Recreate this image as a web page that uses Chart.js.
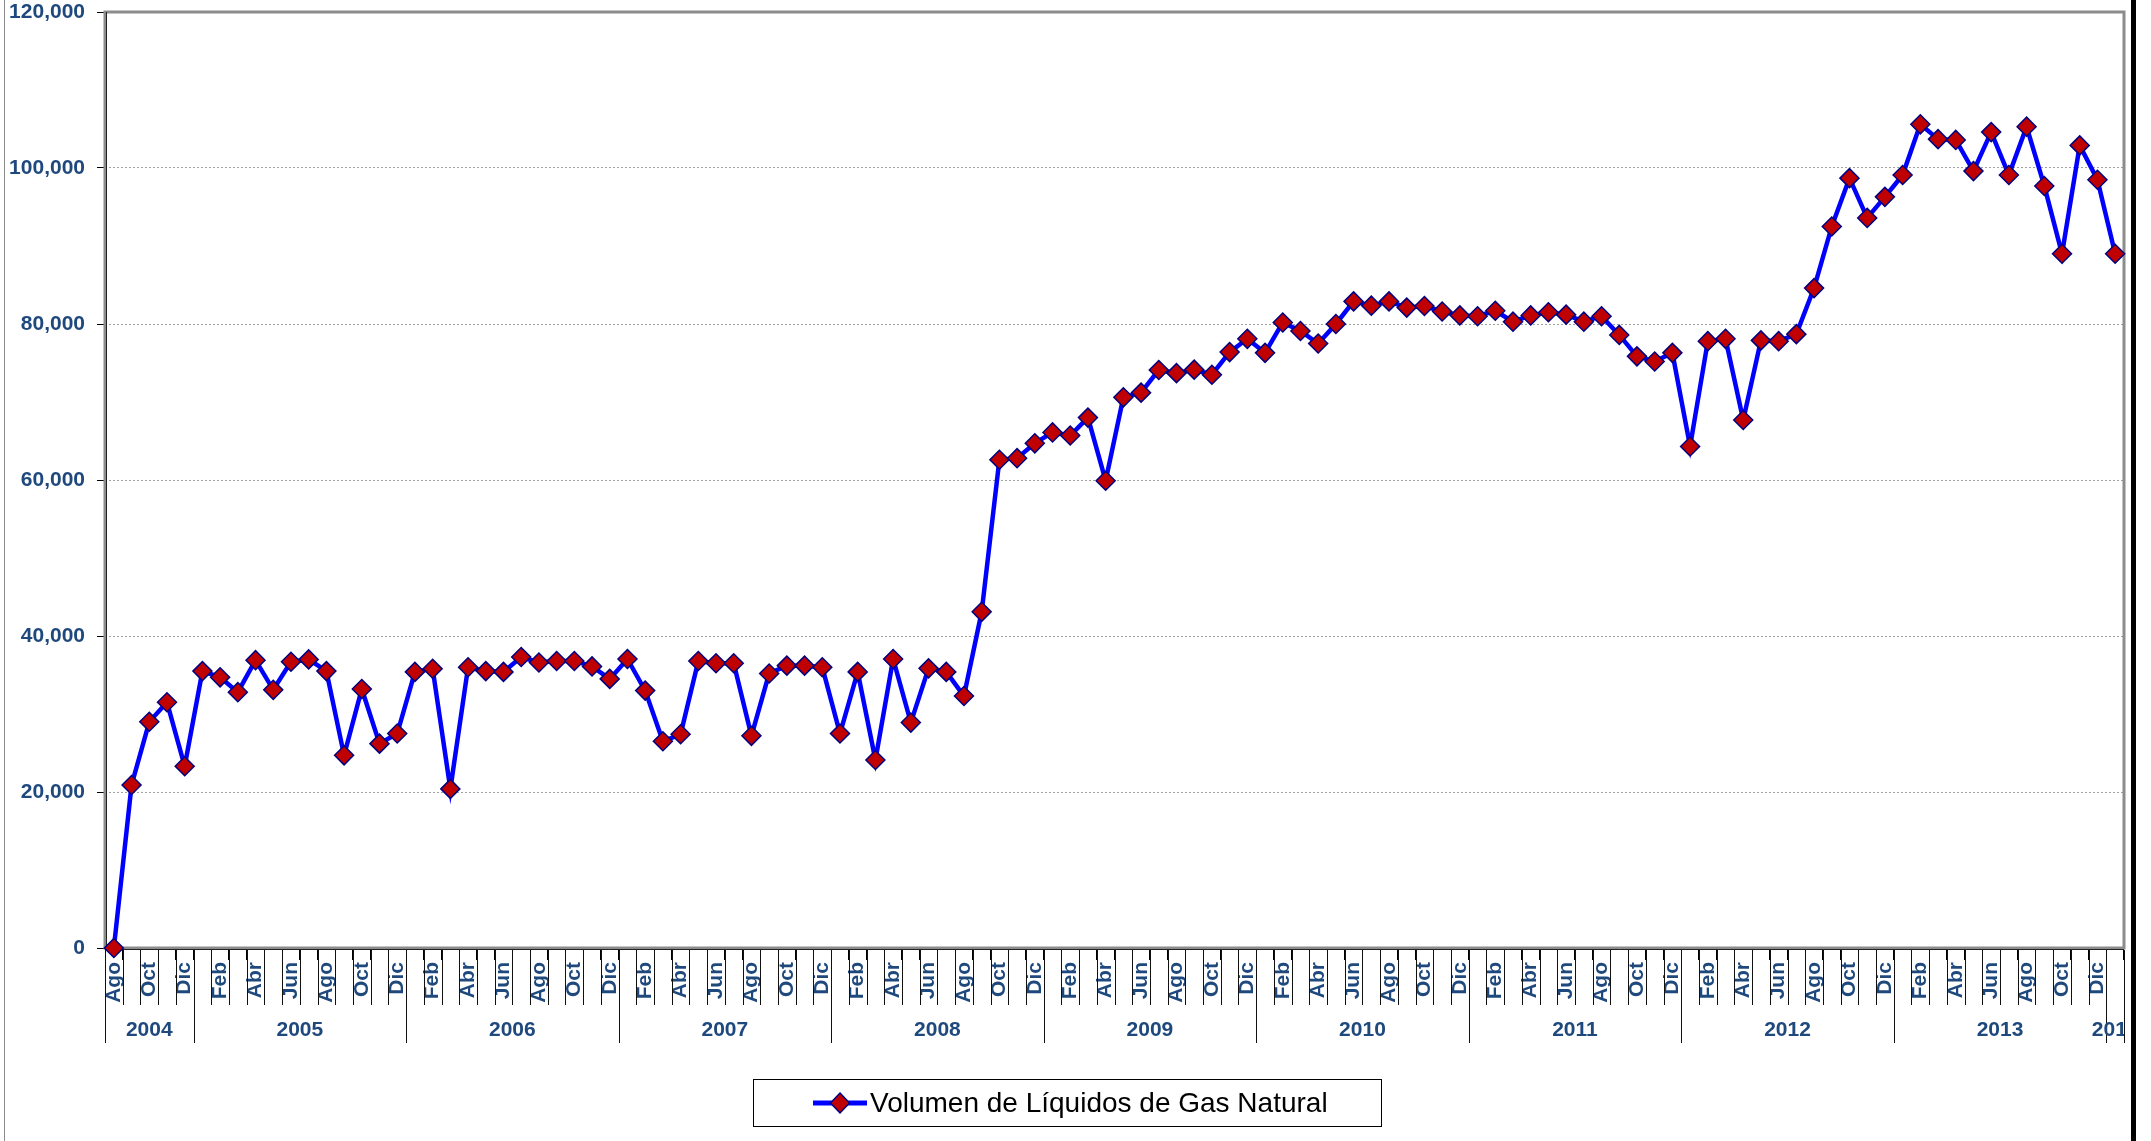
<!DOCTYPE html>
<html>
<head>
<meta charset="utf-8">
<script src="https://cdn.jsdelivr.net/npm/chart.js@4.4.0/dist/chart.umd.min.js"></script>
<style>
  html, body { margin: 0; padding: 0; background: #fff; }
  #wrap { width: 2151px; height: 1141px; }
</style>
</head>
<body>
<div id="wrap"><canvas id="chart" width="2151" height="1141"></canvas></div>
<script>
// data (monthly, Ago 2004 - Ene 2014)
const monthNames = ['Ene','Feb','Mar','Abr','May','Jun','Jul','Ago','Sep','Oct','Nov','Dic'];
const years = [2004, 2005, 2006, 2007, 2008, 2009, 2010, 2011, 2012, 2013, 2014];
const firstMonth = 7; // Ago
const seriesLabel = 'Volumen de Líquidos de Gas Natural';

const vol2004 = [0, 20900, 29000, 31500, 23300];
const vol2005 = [35500, 34700, 32800, 36900, 33100, 36700, 37000, 35500, 24700, 33200, 26200, 27500];
const vol2006 = [35400, 35800, 20400, 36000, 35500, 35400, 37300, 36600, 36800, 36800, 36100, 34500];
const vol2007 = [37050, 33000, 26500, 27400, 36800, 36500, 36500, 27200, 35200, 36200, 36200, 36000];
const vol2008 = [27500, 35400, 24100, 37050, 28900, 35850, 35400, 32300, 43100, 62600, 62800, 64700];
const vol2009 = [66100, 65700, 68000, 59900, 70600, 71200, 74100, 73700, 74150, 73500, 76400, 78100];
const vol2010 = [76300, 80200, 79100, 77500, 80000, 82900, 82350, 82900, 82100, 82300, 81600, 81100];
const vol2011 = [81000, 81700, 80300, 81100, 81500, 81200, 80300, 81000, 78600, 75850, 75200, 76300];
const vol2012 = [64300, 77800, 78100, 67700, 77900, 77800, 78700, 84600, 92500, 98700, 93600, 96300];
const vol2013 = [99100, 105600, 103700, 103600, 99600, 104600, 99100, 105300, 97700, 89000, 102900, 98500];
const vol2014 = [89000];

const yMax = 120000;
const yStep = 20000;

const volumen = [].concat(vol2004, vol2005, vol2006, vol2007, vol2008, vol2009,
  vol2010, vol2011, vol2012, vol2013, vol2014);

// categories and year groups
const categories = [];
const yearOf = [];
volumen.forEach((v, i) => {
  const m = (firstMonth + i) % 12;
  categories.push(monthNames[m]);
  yearOf.push(years[0] + Math.floor((firstMonth + i) / 12));
});

const textBlue = '#1F497D';
const fontFam = '"Liberation Sans", Arial, sans-serif';

const decor = {
  id: 'decor',
  beforeDatasetsDraw(chart) {
    const { ctx, chartArea: a } = chart;
    ctx.save();
    ctx.strokeStyle = '#8c8c8c';
    ctx.lineWidth = 3;
    ctx.strokeRect(a.left, a.top, a.right - a.left, a.bottom - a.top);
    ctx.strokeStyle = '#222';
    ctx.lineWidth = 1;
    ctx.beginPath();
    ctx.moveTo(a.left + 1.5, a.top);
    ctx.lineTo(a.left + 1.5, a.bottom);
    ctx.moveTo(a.left, a.bottom + 1.5);
    ctx.lineTo(a.right, a.bottom + 1.5);
    ctx.stroke();
    ctx.restore();
  },
  afterDraw(chart) {
    const { ctx, chartArea: a } = chart;
    const x = chart.scales.x;
    ctx.save();

    // month separators and year separators
    ctx.strokeStyle = '#111';
    ctx.lineWidth = 1;
    ctx.beginPath();
    for (let k = 0; k <= categories.length; k++) {
      const px = Math.round(x.getPixelForValue(k - 0.5)) + 0.5;
      const yearEdge = k === 0 || k === categories.length || yearOf[k] !== yearOf[k - 1];
      ctx.moveTo(px, a.bottom + 2);
      ctx.lineTo(px, yearEdge ? 1043 : 1005);
    }
    ctx.stroke();

    // year labels
    ctx.save();
    ctx.beginPath();
    ctx.rect(0, a.bottom, a.right, 200);
    ctx.clip();
    ctx.fillStyle = textBlue;
    ctx.font = 'bold 21px ' + fontFam;
    ctx.textAlign = 'center';
    ctx.textBaseline = 'middle';
    years.forEach(yr => {
      const first = yearOf.indexOf(yr);
      const last = yearOf.lastIndexOf(yr);
      if (first < 0) return;
      const cx = (x.getPixelForValue(first - 0.5) + x.getPixelForValue(last + 0.5)) / 2;
      ctx.fillText(String(yr), cx, 1030);
    });
    ctx.restore();

    // legend
    const ds = chart.data.datasets[0];
    ctx.strokeStyle = '#000';
    ctx.lineWidth = 1;
    ctx.strokeRect(753.5, 1079.5, 628, 47);
    ctx.strokeStyle = ds.borderColor;
    ctx.lineWidth = 5;
    ctx.beginPath();
    ctx.moveTo(813, 1103);
    ctx.lineTo(867, 1103);
    ctx.stroke();
    ctx.fillStyle = ds.pointBackgroundColor;
    ctx.strokeStyle = ds.pointBorderColor;
    ctx.lineWidth = 1.5;
    ctx.beginPath();
    ctx.moveTo(840, 1093);
    ctx.lineTo(849.5, 1103);
    ctx.lineTo(840, 1113);
    ctx.lineTo(830.5, 1103);
    ctx.closePath();
    ctx.fill();
    ctx.stroke();
    ctx.fillStyle = '#000';
    ctx.font = '28px ' + fontFam;
    ctx.textAlign = 'left';
    ctx.textBaseline = 'middle';
    ctx.fillText(ds.label, 870, 1104);

    // outer frame bits
    ctx.fillStyle = '#8c8c8c';
    ctx.fillRect(4, 0, 1, 1141);
    ctx.fillStyle = '#000';
    ctx.fillRect(2131, 0, 5, 1141);
    ctx.restore();
  }
};

new Chart(document.getElementById('chart'), {
  type: 'line',
  data: {
    labels: categories,
    datasets: [{
      label: seriesLabel,
      data: volumen,
      borderColor: '#0000FF',
      borderWidth: 4.5,
      pointStyle: 'rectRot',
      pointRadius: 9.5,
      pointBackgroundColor: '#C00000',
      pointBorderColor: '#000080',
      pointBorderWidth: 1.5,
      tension: 0,
      clip: false
    }]
  },
  options: {
    responsive: false,
    animation: false,
    layout: { padding: { top: 12, right: 27, left: 0, bottom: 0 } },
    plugins: { legend: { display: false }, tooltip: { enabled: false } },
    scales: {
      x: {
        type: 'category',
        offset: true,
        grid: { display: true, drawOnChartArea: false, offset: true, tickLength: 12, color: '#000', lineWidth: 1 },
        border: { display: false },
        ticks: {
          autoSkip: false,
          maxRotation: 90,
          minRotation: 90,
          padding: 2,
          color: textBlue,
          font: { family: fontFam, size: 21, weight: 'bold' },
          callback: function (v, i) { return i % 2 === 0 ? this.getLabelForValue(v) : ''; }
        },
        afterFit(scale) {
          scale.height = 193;
          scale.paddingLeft = 0;
          scale.paddingRight = 0;
        }
      },
      y: {
        min: 0,
        max: yMax,
        grid: { color: '#a0a0a0', lineWidth: 1, tickLength: 8, tickColor: '#000' },
        border: { display: false, dash: [2, 2] },
        ticks: {
          stepSize: yStep,
          padding: 12,
          color: textBlue,
          font: { family: fontFam, size: 21, weight: 'bold' },
          callback: v => v.toLocaleString('en-US')
        },
        afterFit(scale) {
          scale.width = 105;
          scale.paddingTop = 0;
          scale.paddingBottom = 0;
        }
      }
    }
  },
  plugins: [decor]
});
</script>
</body>
</html>
